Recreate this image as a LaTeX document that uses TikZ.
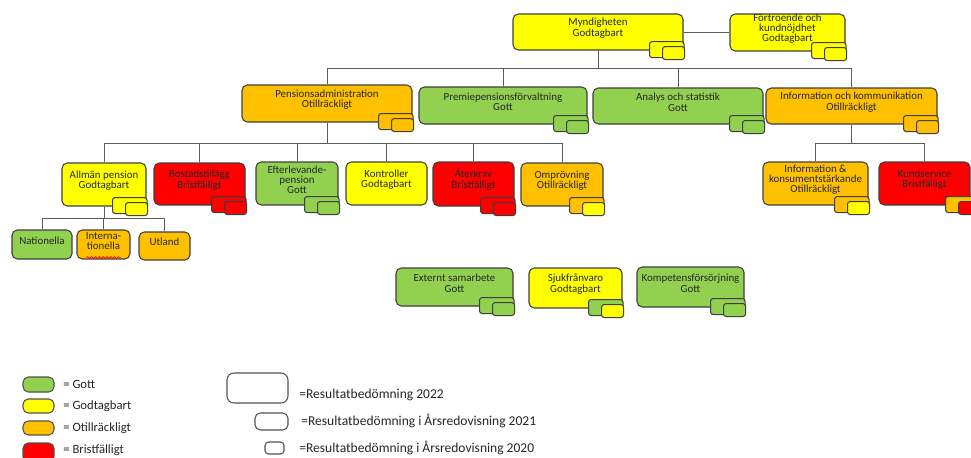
\documentclass[tikz,border=0pt]{standalone}
\usepackage{fontspec}
\setmainfont{Carlito}
\usetikzlibrary{fit,calc,decorations.pathmorphing}

\definecolor{cgott}{HTML}{92D050}
\definecolor{cgodtag}{HTML}{FFFF00}
\definecolor{cotill}{HTML}{FFC000}
\definecolor{cbrist}{HTML}{FF0000}
\definecolor{edge}{HTML}{3F3F3F}

\tikzset{
  unit/.style={draw=edge, line width=0.6pt, rounded corners=3pt, inner sep=0pt,
    align=center, text=black!85, font=\fontsize{6.2}{5.8}\selectfont},
  gott/.style={unit, fill=cgott},
  godtag/.style={unit, fill=cgodtag},
  otill/.style={unit, fill=cotill},
  brist/.style={unit, fill=cbrist},
  minibox/.style={draw=edge, line width=0.6pt, rounded corners=1.5pt},
  link/.style={draw=edge!85, line width=0.5pt},
  swatch/.style={draw=edge!90, line width=0.6pt, rounded corners=3pt, inner sep=0pt},
  legtext/.style={anchor=west, inner sep=0pt, text=black!85, font=\fontsize{7.2}{8}\selectfont},
  restext/.style={anchor=west, inner sep=0pt, text=black!85, font=\fontsize{7.7}{8}\selectfont}
}

% box from two corners, and the two small boxes of 2021/2020
\newcommand{\orgunit}[4]{\node[#2, fit={#3}] (#1) {#4};}
\newcommand{\minis}[4][0]{%
  \draw[minibox, fill=#3] ($(#2.south east)+(#1-34,-9)$) rectangle ($(#2.south east)+(#1+0.5,7)$);
  \draw[minibox, fill=#4] ($(#2.south east)+(#1-21,-4)$) rectangle ($(#2.south east)+(#1+1,9)$);}

\begin{document}
\begin{tikzpicture}[x=0.02cm, y=-0.02cm]
\path[fill=white, use as bounding box] (0,0) rectangle (971,457);

% Top
\orgunit{mynd}{godtag}{(513,14) (683,50)}{Myndigheten\\Godtagbart}
\orgunit{fort}{godtag}{(730,14) (845,51)}{Förtroende och\\kundnöjdhet\\Godtagbart}
\minis{mynd}{cgodtag}{cgodtag}
\minis{fort}{cgodtag}{cgodtag}

% Level 1
\orgunit{pens}{otill}{(242,85) (412,122)}{Pensionsadministration\\Otillräckligt}
\orgunit{premie}{gott}{(419,87) (587,124)}{Premiepensionsförvaltning\\Gott}
\orgunit{analys}{gott}{(593,88) (763,124)}{Analys och statistik\\Gott}
\orgunit{info}{otill}{(766,88) (937,124)}{Information och kommunikation\\Otillräckligt}
\minis{pens}{cotill}{cotill}
\minis{premie}{cgott}{cgott}
\minis{analys}{cgott}{cgott}
\minis{info}{cotill}{cotill}

% Level 2
\orgunit{allman}{godtag}{(62,163) (146,206)}{Allmän pension\\Godtagbart}
\orgunit{bostad}{brist}{(154,163) (245,205)}{Bostadstillägg\\Bristfälligt}
\orgunit{efter}{gott}{(256,162) (338,205)}{Efterlevande-\\pension\\Gott}
\orgunit{kontroll}{godtag}{(346,162) (427,205)}{Kontroller\\Godtagbart}
\orgunit{aterkrav}{brist}{(433,162) (514,206)}{Återkrav\\Bristfälligt}
\orgunit{omprov}{otill}{(521,163) (603,206)}{Omprövning\\Otillräckligt}
\orgunit{infokons}{otill}{(763,162) (868,205)}{Information \&\\konsumentstärkande\\Otillräckligt}
\orgunit{kund}{brist}{(879,162) (970,205)}{Kundservice\\Bristfälligt}
\minis{allman}{cgodtag}{cgodtag}
\minis{bostad}{cbrist}{cbrist}
\minis{efter}{cgott}{cgott}
\minis{aterkrav}{cbrist}{cbrist}
\minis{omprov}{cotill}{cgodtag}
\minis{infokons}{cotill}{cgodtag}
\minis[9]{kund}{cotill}{cbrist}

% Level 3
\orgunit{nation}{gott}{(12,230) (72,259)}{Nationella}
\orgunit{intl}{otill}{(77,230) (130,259)}{Interna-\\tionella}
\orgunit{utland}{otill}{(139,232) (190,260)}{Utland}
\draw[red, line width=0.4pt, decorate, decoration={snake, amplitude=0.5pt, segment length=2.2pt}]
  ($(intl.south)+(-17,-2)$) -- ($(intl.south)+(17,-2)$);

% Free units
\orgunit{extern}{gott}{(396,268) (513,306)}{Externt samarbete\\Gott}
\orgunit{sjuk}{godtag}{(529,268) (622,308)}{Sjukfrånvaro\\Godtagbart}
\orgunit{kompetens}{gott}{(637,267) (744,307)}{Kompetensförsörjning\\Gott}
\minis{extern}{cgott}{cgott}
\minis{sjuk}{cgott}{cgodtag}
\minis{kompetens}{cgott}{cgott}

% Tree lines
\coordinate (bus1) at ($(mynd.south)+(0,18)$);
\draw[link] (mynd.south) -- (bus1);
\foreach \n in {pens,premie,analys,info}
  \draw[link] (bus1) -| (\n.north);
\draw[link] (mynd.east) -- (mynd.east -| fort.west);

\coordinate (bus2) at ($(pens.south)+(0,21)$);
\draw[link] (pens.south) -- (bus2);
\foreach \n in {allman,bostad,efter,kontroll,aterkrav,omprov}
  \draw[link] (bus2) -| (\n.north);

\coordinate (bus3) at ($(info.south)+(0,19)$);
\draw[link] (info.south) -- (bus3);
\foreach \n in {infokons,kund}
  \draw[link] (bus3) -| (\n.north);

\coordinate (bus4) at ($(allman.south)+(0,12)$);
\draw[link] (allman.south) -- (bus4);
\foreach \n in {nation,intl,utland}
  \draw[link] (bus4) -| (\n.north);

% Legend
\node[swatch, fill=cgott, fit={(23,377) (54,392)}] (lgott) {};
\node[swatch, fill=cgodtag, fit={(23,399) (54,413)}] (lgodtag) {};
\node[swatch, fill=cotill, fit={(23,421) (54,435)}] (lotill) {};
\node[swatch, fill=cbrist, fit={(23,443) (54,462)}] (lbrist) {};
\node[legtext] (tgott) at (63,384) {= Gott};
\node[legtext] (tgodtag) at (63,406) {= Godtagbart};
\node[legtext] (totill) at (63,428) {= Otillräckligt};
\node[legtext] (tbrist) at (63,450) {= Bristfälligt};

\node[swatch, rounded corners=4pt, fit={(227,373) (288,403)}] (l2022) {};
\node[swatch, rounded corners=3pt, fit={(255,413) (288,430)}] (l2021) {};
\node[swatch, rounded corners=2pt, fit={(265,442) (284,454)}] (l2020) {};
\node[restext] (t2022) at (299,395) {=Resultatbedömning 2022};
\node[restext] (t2021) at (301,421) {=Resultatbedömning i Årsredovisning 2021};
\node[restext] (t2020) at (299,448) {=Resultatbedömning i Årsredovisning 2020};

\end{tikzpicture}
\end{document}
